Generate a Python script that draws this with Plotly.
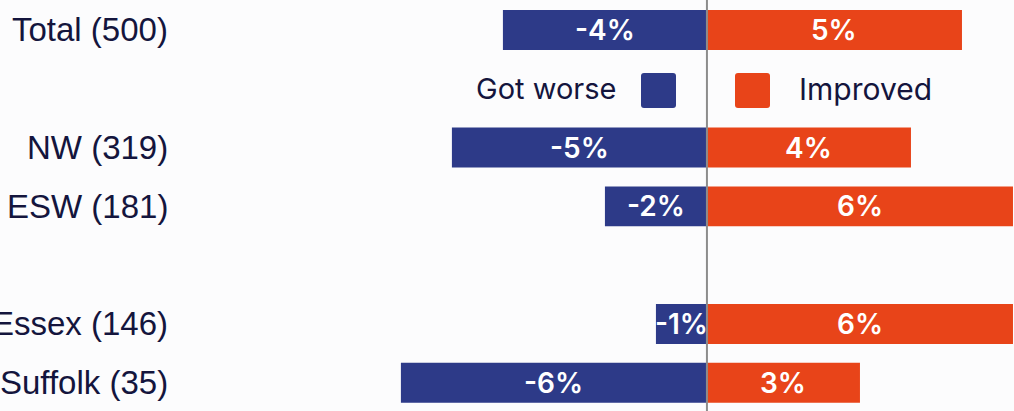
import plotly.graph_objects as go

# Survey rows (label, sample size) and net change shares in percent
categories = ["Total (500)", "NW (319)", "ESW (181)", "Essex (146)", "Suffolk (35)"]
row_pos = [0, 2, 3, 5, 6]          # rows 1 and 4 are left free (legend row, spacer)
got_worse = [-4, -5, -2, -1, -6]
improved = [5, 4, 6, 6, 3]

BLUE = "#2D3A88"
ORANGE = "#E84419"
TEXT = "#14153D"
BG = "#FCFCFD"

W, H = 1014, 411
X_RANGE = [-13.86, 6.02]
Y_RANGE = [6.48, -0.51]

fig = go.Figure()
fig.add_trace(go.Bar(
    y=row_pos, x=got_worse, orientation="h", name="Got worse",
    marker=dict(color=BLUE, line=dict(width=0)), width=0.68, hoverinfo="skip",
))
fig.add_trace(go.Bar(
    y=row_pos, x=improved, orientation="h", name="Improved",
    marker=dict(color=ORANGE, line=dict(width=0)), width=0.68, hoverinfo="skip",
))

annotations = []
# value labels centred in each bar
for y, v in zip(row_pos, got_worse):
    annotations.append(dict(x=v / 2, y=y, xref="x", yref="y", text=f"-{abs(v)}%",
                            showarrow=False, font=dict(family="Inter", size=28, color="white", weight=600)))
for y, v in zip(row_pos, improved):
    annotations.append(dict(x=v / 2, y=y, xref="x", yref="y", text=f"{v}%",
                            showarrow=False, font=dict(family="Inter", size=28, color="white", weight=600)))
# row labels, right-aligned to the left of the chart
for y, c in zip(row_pos, categories):
    annotations.append(dict(x=170 / W, y=y, xref="paper", yref="y", text=c, xanchor="right",
                            showarrow=False, font=dict(family="Liberation Sans", size=33, color=TEXT)))

# custom legend on the spare row
def rounded_square(x0, y0, size, r):
    """Rounded square path in paper coords, given pixel geometry."""
    def px(x):
        return x / W
    def py(y):
        return 1 - y / H
    x1, y1 = x0 + size, y0 + size
    return (f"M {px(x0 + r)},{py(y0)} L {px(x1 - r)},{py(y0)} Q {px(x1)},{py(y0)} {px(x1)},{py(y0 + r)} "
            f"L {px(x1)},{py(y1 - r)} Q {px(x1)},{py(y1)} {px(x1 - r)},{py(y1)} "
            f"L {px(x0 + r)},{py(y1)} Q {px(x0)},{py(y1)} {px(x0)},{py(y1 - r)} "
            f"L {px(x0)},{py(y0 + r)} Q {px(x0)},{py(y0)} {px(x0 + r)},{py(y0)} Z")

shapes = [
    dict(type="path", xref="paper", yref="paper", path=rounded_square(641, 73, 35, 3),
         fillcolor=BLUE, line=dict(width=0)),
    dict(type="path", xref="paper", yref="paper", path=rounded_square(735, 73, 35, 3),
         fillcolor=ORANGE, line=dict(width=0)),
    # zero line
    dict(type="line", xref="x", yref="paper", x0=0, x1=0, y0=0, y1=1,
         line=dict(color="#8C8C8C", width=2), layer="above"),
]
annotations.append(dict(x=618 / W, y=1, xref="paper", yref="y", text="Got worse", xanchor="right",
                        showarrow=False, font=dict(family="Inter", size=29, color=TEXT)))
annotations.append(dict(x=797 / W, y=1, xref="paper", yref="y", text="Improved", xanchor="left",
                        showarrow=False, font=dict(family="Inter", size=30, color=TEXT)))

fig.update_layout(
    width=W, height=H, barmode="relative", showlegend=False,
    margin=dict(l=0, r=0, t=0, b=0),
    paper_bgcolor=BG, plot_bgcolor=BG,
    xaxis=dict(range=X_RANGE, visible=False, fixedrange=True),
    yaxis=dict(range=Y_RANGE, visible=False, fixedrange=True),
    annotations=annotations, shapes=shapes,
)

fig.write_html("out.html", config={"displayModeBar": False})
